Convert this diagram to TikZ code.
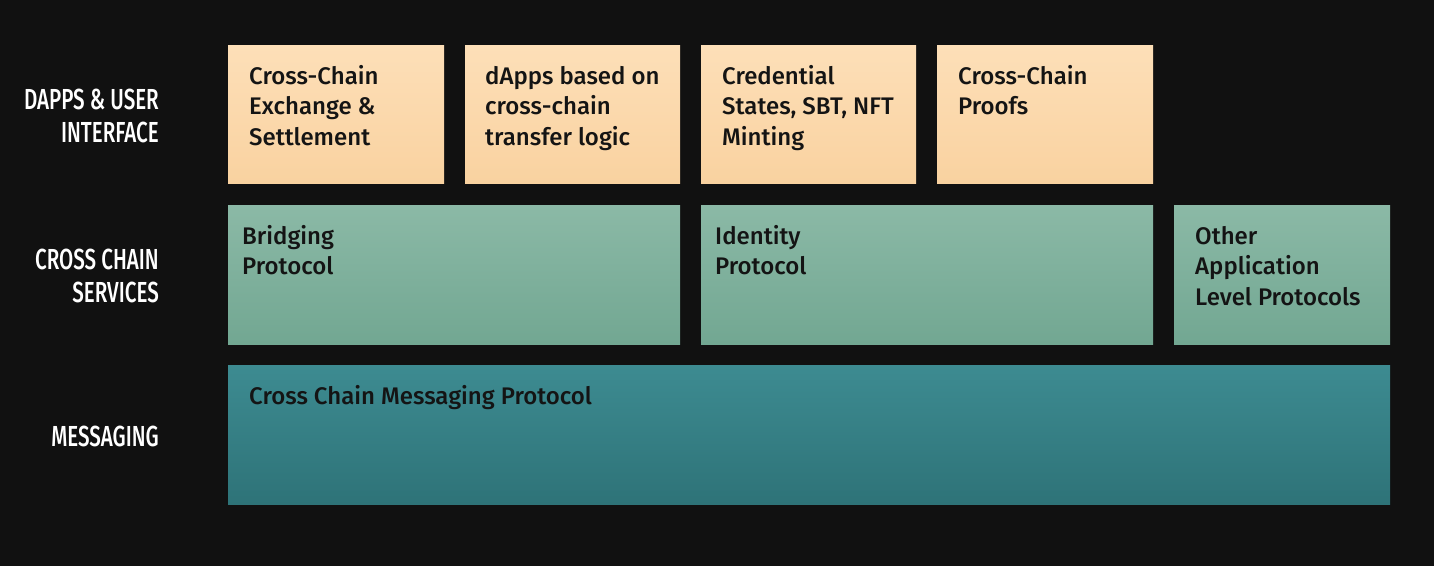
\documentclass[tikz,border=0pt]{standalone}
\usepackage{fontspec}
\setmainfont{Fira Sans}
\newfontfamily\lblfont[FakeStretch=0.71]{Fira Sans Medium}
\newfontfamily\boxfont{Fira Sans Medium}
\definecolor{bg}{HTML}{111111}
\definecolor{ink}{HTML}{141414}
\definecolor{peachT}{HTML}{FDDFB8}
\definecolor{peachB}{HTML}{F9D2A0}
\definecolor{sageT}{HTML}{8BB9A6}
\definecolor{sageB}{HTML}{72A792}
\definecolor{tealT}{HTML}{3D8B91}
\definecolor{tealB}{HTML}{2E7378}
\tikzset{
  layer/.style={white, font=\lblfont\fontsize{29}{33}\selectfont, align=right, anchor=base east, inner sep=0pt},
  boxbase/.style={draw=none, anchor=north west, inner sep=0pt},
  peach/.style={boxbase, top color=peachT, bottom color=peachB},
  sage/.style={boxbase, top color=sageT, bottom color=sageB},
  teal/.style={boxbase, top color=tealT, bottom color=tealB},
  boxtext/.style={ink, font=\boxfont\fontsize{24}{30.5}\selectfont, align=left, anchor=base west, inner sep=0pt}
}
\begin{document}
\begin{tikzpicture}[x=1pt,y=-1pt]
\fill[bg] (0,0) rectangle (1434,566);
\useasboundingbox (0,0) rectangle (1434,566);
% layer labels (anchor = baseline of last line)
\node[layer] (l1) at (159,142) {DAPPS \& USER\\INTERFACE};
\node[layer] (l2) at (159,302) {CROSS CHAIN\\SERVICES};
\node[layer] (l3) at (159,446) {MESSAGING};
% row 1
\node[peach, minimum width=216pt, minimum height=138pt] (a1) at (228,45) {};
\node[peach, minimum width=215pt, minimum height=138pt] (a2) at (465,45) {};
\node[peach, minimum width=215pt, minimum height=138pt] (a3) at (701,45) {};
\node[peach, minimum width=216pt, minimum height=138pt] (a4) at (937,45) {};
\node[boxtext] (t1) at (249,145) {Cross-Chain\\Exchange \&\\Settlement};
\node[boxtext] (t2) at (485,145) {dApps based on\\cross-chain\\transfer logic};
\node[boxtext] (t3) at (722,145) {Credential\\States, SBT, NFT\\Minting};
\node[boxtext] (t4) at (958,114.5) {Cross-Chain\\Proofs};
% row 2
\node[sage, minimum width=452pt, minimum height=139pt] (b1) at (228,205) {};
\node[sage, minimum width=452pt, minimum height=139pt] (b2) at (701,205) {};
\node[sage, minimum width=216pt, minimum height=139pt] (b3) at (1174,205) {};
\node[boxtext] (u1) at (242,274.5) {Bridging\\Protocol};
\node[boxtext] (u2) at (715,274.5) {Identity\\Protocol};
\node[boxtext] (u3) at (1195,305) {Other\\Application\\Level Protocols};
% row 3
\node[teal, minimum width=1162pt, minimum height=139pt] (c1) at (228,365) {};
\node[boxtext] (v1) at (249,404) {Cross Chain Messaging Protocol};
\end{tikzpicture}
\end{document}
